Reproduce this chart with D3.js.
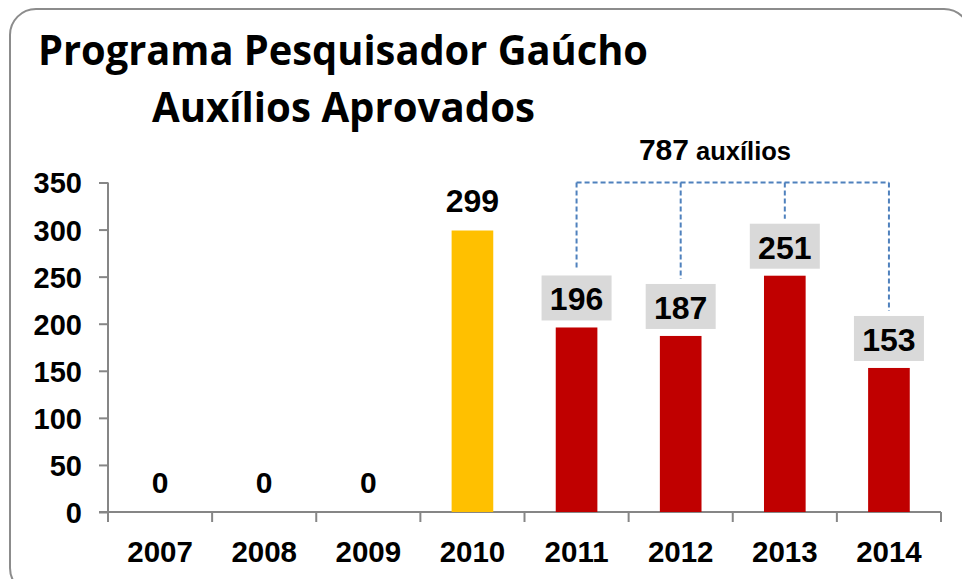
<!DOCTYPE html>
<html>
<head>
<meta charset="utf-8">
<script src="https://cdn.jsdelivr.net/npm/d3@7.9.0/dist/d3.min.js"></script>
<style>
  html, body { margin: 0; padding: 0; background: #fff; }
  svg { display: block; }
  .num { font-family: "Liberation Sans", Arial, sans-serif; font-weight: bold; fill: #000; }
</style>
</head>
<body>
<svg id="chart" width="962" height="579"></svg>
<script>
const years = ['2007', '2008', '2009', '2010', '2011', '2012', '2013', '2014'];
const values = [0, 0, 0, 299, 196, 187, 251, 153];
const boxedYears = ['2011', '2012', '2013', '2014'];
const yTicks = [0, 50, 100, 150, 200, 250, 300, 350];
const titleLines = ['Programa Pesquisador Gaúcho', 'Auxílios Aprovados'];
const totalLabel = ['787', ' auxílios'];

const data = years.map((year, i) => ({ year, value: values[i] }));

const svg = d3.select('#chart');

// outer rounded frame
svg.append('rect')
  .attr('x', 10).attr('y', 9)
  .attr('width', 960).attr('height', 585)
  .attr('rx', 26)
  .attr('fill', 'none')
  .attr('stroke', '#8c8c8c')
  .attr('stroke-width', 2);

// title
svg.append('text')
  .attr('x', 38).attr('y', 65)
  .attr('textLength', 610).attr('lengthAdjust', 'spacingAndGlyphs')
  .style('font-family', '"Open Sans", sans-serif')
  .style('font-weight', 'bold')
  .style('font-size', '42px')
  .text(titleLines[0]);
svg.append('text')
  .attr('x', 152).attr('y', 122)
  .attr('textLength', 383).attr('lengthAdjust', 'spacingAndGlyphs')
  .style('font-family', '"Open Sans", sans-serif')
  .style('font-weight', 'bold')
  .style('font-size', '42px')
  .text(titleLines[1]);

const x = d3.scaleBand()
  .domain(years)
  .range([108, 941])
  .paddingInner(0.6)
  .paddingOuter(0.3);

const y = d3.scaleLinear()
  .domain([0, 350])
  .range([512, 182.5]);

const axisColor = '#868686';

// y axis
const yAxis = svg.append('g')
  .attr('transform', 'translate(108,0)')
  .call(d3.axisLeft(y).tickValues(yTicks).tickSize(9).tickSizeOuter(0).tickPadding(17));
yAxis.select('.domain').attr('stroke', axisColor).attr('stroke-width', 2)
  .attr('d', `M0,${y(350)}V${y(0) + 10}`);
yAxis.selectAll('.tick line').attr('stroke', axisColor).attr('stroke-width', 2);
yAxis.selectAll('.tick text')
  .attr('class', 'num')
  .style('font-size', '29px')
  .attr('dy', '0.36em');

// x axis
const step = x.step();
const x0 = x.range()[0];
const bounds = d3.range(years.length + 1).map((i) => x0 + i * step);
const xAxis = svg.append('g');
xAxis.append('line')
  .attr('x1', 99).attr('x2', d3.max(bounds))
  .attr('y1', y(0)).attr('y2', y(0))
  .attr('stroke', axisColor).attr('stroke-width', 2);
xAxis.selectAll('line.bound')
  .data(bounds.slice(1))
  .join('line')
  .attr('class', 'bound')
  .attr('x1', (d) => d).attr('x2', (d) => d)
  .attr('y1', y(0)).attr('y2', y(0) + 10)
  .attr('stroke', axisColor).attr('stroke-width', 2);

const xLabels = svg.append('g')
  .attr('transform', `translate(0,${y(0)})`)
  .call(d3.axisBottom(x).tickSize(0).tickPadding(0));
xLabels.select('.domain').remove();
xLabels.selectAll('.tick text')
  .attr('class', 'num')
  .style('font-size', '29.5px')
  .attr('y', 50)
  .attr('dy', 0);

// bars
svg.append('g')
  .selectAll('rect')
  .data(data)
  .join('rect')
  .attr('x', (d) => x(d.year))
  .attr('width', x.bandwidth())
  .attr('y', (d) => y(d.value))
  .attr('height', (d) => y(0) - y(d.value))
  .attr('fill', (d) => (d.year === '2010' ? '#ffc000' : '#c00000'));

const cx = (d) => x(d.year) + x.bandwidth() / 2;
const boxW = 70, boxH = 45, boxGap = 7;
const boxed = data.filter((d) => boxedYears.includes(d.year));
const plain = data.filter((d) => !boxedYears.includes(d.year));

// plain labels
svg.append('g')
  .selectAll('text')
  .data(plain)
  .join('text')
  .attr('class', 'num')
  .attr('text-anchor', 'middle')
  .style('font-size', (d) => (d.value > 0 ? '32px' : '30px'))
  .attr('x', cx)
  .attr('y', (d) => y(d.value) - 19)
  .text((d) => d.value);

// dashed bracket
const bracketY = y(350);
const bracket = svg.append('g')
  .attr('fill', 'none')
  .attr('stroke', '#4f81bd')
  .attr('stroke-width', 2)
  .attr('stroke-dasharray', '5,3');
bracket.append('line')
  .attr('x1', cx(boxed[0])).attr('x2', cx(boxed[boxed.length - 1]))
  .attr('y1', bracketY).attr('y2', bracketY);
bracket.selectAll('line.drop')
  .data(boxed)
  .join('line')
  .attr('class', 'drop')
  .attr('x1', cx).attr('x2', cx)
  .attr('y1', bracketY)
  .attr('y2', (d) => y(d.value) - boxGap - boxH - 5);

// boxed labels
const boxes = svg.append('g')
  .selectAll('g')
  .data(boxed)
  .join('g');
boxes.append('rect')
  .attr('x', (d) => cx(d) - boxW / 2)
  .attr('y', (d) => y(d.value) - boxGap - boxH)
  .attr('width', boxW)
  .attr('height', boxH)
  .attr('fill', '#d9d9d9');
boxes.append('text')
  .attr('class', 'num')
  .attr('text-anchor', 'middle')
  .style('font-size', '32px')
  .attr('x', cx)
  .attr('y', (d) => y(d.value) - boxGap - 10)
  .text((d) => d.value);

// total label
const total = svg.append('text')
  .attr('class', 'num')
  .attr('x', 715).attr('y', 160)
  .attr('text-anchor', 'middle');
total.append('tspan').style('font-size', '30px').text(totalLabel[0]);
total.append('tspan').style('font-size', '25.5px').text(totalLabel[1]);
</script>
</body>
</html>
